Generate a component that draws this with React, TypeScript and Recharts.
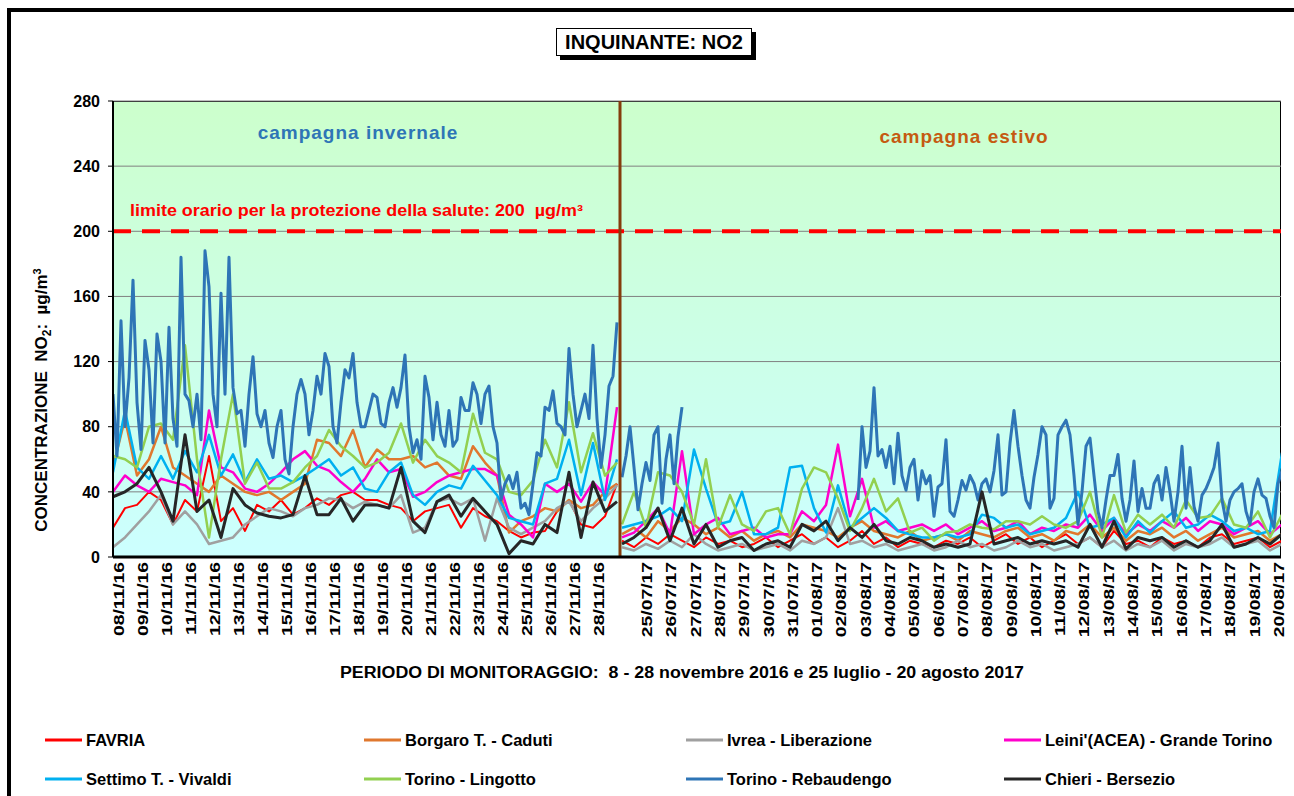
import React from "react";
import {
  LineChart,
  Line,
  XAxis,
  YAxis,
  CartesianGrid,
  ReferenceLine,
} from "recharts";

// tick labels
const WINTER_LABELS = [
  "08/11/16", "09/11/16", "10/11/16", "11/11/16", "12/11/16", "13/11/16", "14/11/16",
  "15/11/16", "16/11/16", "17/11/16", "18/11/16", "19/11/16", "20/11/16", "21/11/16",
  "22/11/16", "23/11/16", "24/11/16", "25/11/16", "26/11/16", "27/11/16", "28/11/16",
];
const SUMMER_LABELS = [
  "25/07/17", "26/07/17", "27/07/17", "28/07/17", "29/07/17", "30/07/17", "31/07/17",
  "01/08/17", "02/08/17", "03/08/17", "04/08/17", "05/08/17", "06/08/17", "07/08/17",
  "08/08/17", "09/08/17", "10/08/17", "11/08/17", "12/08/17", "13/08/17", "14/08/17",
  "15/08/17", "16/08/17", "17/08/17", "18/08/17", "19/08/17", "20/08/17",
];
const Y_TICKS = [0, 40, 80, 120, 160, 200, 240, 280];

// NO2 µg/m³ — winter campaign 08/11-28/11/2016
const FAVRIA_W = [18, 30, 32, 40, 35, 20, 35, 28, 62, 22, 30, 16, 32, 28, 35, 26, 30, 36, 32, 38, 40, 35, 35, 32, 30, 22, 28, 30, 32, 18, 30, 25, 22, 16, 12, 15, 16, 28, 35, 20, 18, 25, 45];
const BORGARO_W = [55, 85, 50, 60, 80, 55, 50, 45, 40, 50, 45, 40, 38, 40, 35, 40, 45, 72, 70, 62, 78, 55, 66, 60, 60, 62, 55, 58, 50, 48, 68, 58, 50, 15, 22, 25, 30, 28, 35, 30, 32, 40, 45];
const IVREA_W = [6, 12, 20, 28, 38, 20, 28, 20, 8, 10, 12, 20, 25, 30, 28, 25, 30, 32, 36, 35, 30, 34, 32, 30, 38, 15, 18, 34, 36, 32, 36, 10, 36, 18, 14, 18, 22, 30, 34, 22, 30, 36, 44];
const LEINI_W = [40, 50, 44, 40, 48, 46, 44, 38, 90, 55, 52, 42, 40, 45, 52, 60, 65, 56, 53, 46, 40, 48, 60, 52, 54, 37, 40, 46, 50, 52, 54, 54, 50, 26, 20, 12, 45, 40, 45, 34, 46, 38, 92];
const SETTIMO_W = [52, 90, 55, 48, 62, 48, 65, 52, 75, 50, 63, 46, 60, 48, 50, 46, 50, 55, 60, 50, 55, 42, 40, 52, 58, 38, 32, 40, 44, 42, 56, 47, 38, 24, 22, 20, 45, 48, 72, 38, 70, 35, 60];
const LINGOTTO_W = [62, 60, 55, 80, 82, 72, 130, 60, 12, 60, 100, 45, 58, 42, 42, 46, 55, 62, 78, 68, 62, 55, 58, 64, 82, 58, 72, 62, 58, 52, 88, 64, 60, 40, 38, 47, 72, 55, 95, 52, 76, 50, 58];
const REBAUDENGO_W = [
  100, 62, 145, 80, 110, 170, 95, 66, 133, 115, 70, 137, 120, 70, 141, 85, 68, 184, 100, 96,
  80, 100, 72, 188, 166, 100, 80, 162, 100, 184, 104, 88, 90, 68, 100, 123, 88, 80, 90, 70,
  61, 80, 90, 60, 51, 80, 100, 109, 100, 75, 90, 111, 100, 125, 117, 80, 70, 95, 115, 110,
  125, 95, 80, 80, 90, 100, 98, 82, 80, 95, 104, 92, 104, 124, 80, 64, 72, 60, 111, 98,
  72, 95, 75, 68, 90, 68, 72, 98, 90, 90, 107, 100, 82, 100, 105, 80, 70, 35, 45, 50,
  42, 52, 30, 33, 26, 45, 64, 62, 92, 90, 102, 82, 80, 75, 128, 100, 80, 90, 100, 85,
  130, 85, 55, 75, 105, 111, 144,
];
const CHIERI_W = [37, 40, 45, 55, 40, 22, 75, 28, 35, 12, 42, 32, 27, 25, 24, 26, 50, 26, 26, 36, 22, 32, 32, 30, 55, 22, 15, 34, 38, 25, 36, 28, 20, 2, 10, 8, 20, 15, 52, 12, 46, 28, 34];

// summer campaign 24/07-20/08/2017
const FAVRIA_S = [10, 6, 12, 8, 14, 10, 6, 12, 8, 10, 6, 8, 12, 6, 10, 14, 8, 12, 6, 10, 16, 8, 12, 6, 10, 8, 6, 10, 8, 12, 6, 10, 14, 8, 12, 6, 10, 14, 8, 12, 6, 16, 8, 10, 6, 12, 8, 10, 6, 12, 14, 8, 10, 12, 6, 10];
const BORGARO_S = [14, 18, 12, 22, 16, 24, 20, 14, 18, 12, 16, 10, 14, 16, 12, 20, 18, 16, 12, 18, 22, 16, 14, 12, 16, 10, 12, 14, 10, 16, 14, 12, 16, 18, 12, 14, 10, 16, 14, 20, 12, 18, 10, 16, 14, 18, 12, 16, 10, 14, 18, 12, 14, 16, 10, 14];
const IVREA_S = [6, 4, 8, 5, 10, 6, 14, 8, 4, 6, 8, 4, 6, 8, 4, 10, 8, 12, 30, 8, 10, 6, 8, 4, 6, 8, 4, 6, 10, 6, 8, 4, 6, 10, 6, 8, 4, 6, 8, 12, 6, 10, 4, 8, 6, 10, 4, 8, 6, 8, 12, 6, 8, 10, 4, 8];
const LEINI_S = [12, 15, 22, 30, 14, 65, 14, 20, 24, 14, 16, 18, 12, 14, 14, 28, 22, 32, 69, 25, 48, 18, 22, 16, 18, 20, 16, 20, 14, 18, 22, 16, 18, 22, 14, 18, 16, 20, 18, 26, 16, 24, 14, 20, 16, 22, 18, 24, 16, 22, 20, 14, 18, 22, 14, 20];
const SETTIMO_S = [18, 20, 22, 25, 30, 22, 66, 42, 20, 22, 40, 14, 14, 18, 55, 56, 30, 15, 44, 18, 24, 30, 24, 16, 14, 12, 12, 14, 12, 14, 26, 24, 18, 20, 14, 16, 18, 24, 40, 18, 20, 24, 12, 22, 15, 22, 28, 18, 20, 26, 22, 16, 18, 14, 16, 64];
const LINGOTTO_S = [20, 40, 18, 52, 50, 40, 20, 60, 18, 38, 20, 16, 28, 30, 14, 42, 55, 52, 36, 16, 30, 48, 28, 36, 15, 18, 10, 15, 16, 20, 18, 17, 22, 22, 20, 25, 20, 18, 22, 40, 12, 38, 15, 26, 20, 26, 18, 35, 24, 25, 36, 20, 18, 28, 12, 26];
const REBAUDENGO_S = [
  49, 62, 80, 55, 29, 45, 58, 47, 75, 80, 33, 60, 75, 45, 74, 92,
  null, null, null, null, null, null, null, null, null, null, null, null, null, null, null,
  null, null, null, null, null, null, null, null, null, null, null, null, null, null, null,
  null, null, null, null, null, null, null, null, null, null, null, null, null,
  35, 80, 55, 65, 104, 62, 66, 55, 68, 45, 76, 50, 41, 55, 60, 35, 53, 45, 50, 25,
  43, 45, 72, 28, 25, 35, 47, 41, 50, 45, 35, 45, 48, 40, 53, 75, 38, 40, 70, 90,
  68, 50, 35, 30, 49, 63, 80, 75, 30, 36, 75, 80, 84, 75, 50, 20, 40, 68, 73, 50,
  28, 18, 35, 50, 50, 63, 36, 22, 35, 59, 28, 42, 30, 30, 45, 50, 35, 55, 40, 22,
  40, 68, 30, 55, 31, 22, 38, 42, 48, 55, 70, 35, 22, 35, 40, 42, 45, 28, 20, 40,
  48, 38, 36, 25, 18, 45, 53,
];
const CHIERI_S = [8, 12, 18, 30, 10, 30, 8, 20, 6, 10, 12, 4, 8, 10, 6, 20, 16, 22, 10, 18, 12, 20, 10, 8, 12, 10, 6, 8, 6, 8, 40, 8, 10, 12, 8, 10, 8, 10, 6, 20, 6, 22, 5, 12, 10, 12, 6, 10, 6, 10, 20, 6, 8, 12, 8, 14];

// axis position: 1 unit = 1 hour (winter), summer block starts after the break
const X_MAX = 1168;
const BREAK_X = 507;
const SUMMER_START = 509;
const winterTick = (d: number) => 6 + 24 * d;
const summerTick = (d: number) => 534 + 24.3 * d;
const X_TICKS = [...WINTER_LABELS.map((_, i) => winterTick(i)), ...SUMMER_LABELS.map((_, i) => summerTick(i))];
const X_TICK_LABELS = [...WINTER_LABELS, ...SUMMER_LABELS];

const SERIES = [
  { name: "FAVRIA", color: "#FF0000", width: 2, step: 12, winter: FAVRIA_W, summer: FAVRIA_S },
  { name: "Borgaro T. - Caduti", color: "#E0782E", width: 2.5, step: 12, winter: BORGARO_W, summer: BORGARO_S },
  { name: "Ivrea - Liberazione", color: "#A0A0A0", width: 2.5, step: 12, winter: IVREA_W, summer: IVREA_S },
  { name: "Leini'(ACEA) - Grande Torino", color: "#FF00CC", width: 2.5, step: 12, winter: LEINI_W, summer: LEINI_S },
  { name: "Settimo T. - Vivaldi", color: "#00B0F0", width: 2.5, step: 12, winter: SETTIMO_W, summer: SETTIMO_S },
  { name: "Torino - Lingotto", color: "#92D050", width: 2.5, step: 12, winter: LINGOTTO_W, summer: LINGOTTO_S },
  { name: "Torino - Rebaudengo", color: "#2E75B6", width: 3, step: 4, winter: REBAUDENGO_W, summer: REBAUDENGO_S },
  { name: "Chieri - Bersezio", color: "#262626", width: 3, step: 12, winter: CHIERI_W, summer: CHIERI_S },
];

const buildRows = (s: (typeof SERIES)[number]) => [
  ...s.winter.map((v, i) => ({ x: i * s.step, v })),
  { x: BREAK_X, v: null },
  ...s.summer.map((v, i) => ({ x: SUMMER_START + i * s.step, v })),
];

const FONT = '"Liberation Sans", Arial, sans-serif';

const DateTick = (props: any) => {
  const { x, y, payload } = props;
  const idx = X_TICKS.findIndex((t) => Math.abs(t - payload.value) < 0.01);
  return (
    <text
      transform={`translate(${x},${y}) rotate(-90) scale(1.38,1)`}
      textAnchor="end"
      dy="0.36em"
      fontSize={14}
      fontWeight={700}
      fontFamily={FONT}
      fill="#000"
    >
      {X_TICK_LABELS[idx] ?? ""}
    </text>
  );
};

const LEGEND_COLS = [45, 364, 686, 1004];
const LEGEND_ROWS = [740, 779];

export default function App() {
  return (
    <div style={{ position: "relative", width: 1294, height: 796, background: "#fff", overflow: "hidden", fontFamily: FONT }}>
      <style>{"body{margin:0}"}</style>
      {/* outer frame */}
      <div style={{ position: "absolute", left: 7, top: 8, width: 1400, height: 900, borderTop: "4px solid #000", borderLeft: "4px solid #000" }} />
      {/* plot background */}
      <div
        style={{
          position: "absolute", left: 113, top: 101, width: 1168, height: 456,
          background: "linear-gradient(#CCFFCC, #CCFFFF)", border: "1px solid #000", boxSizing: "border-box",
        }}
      />
      {/* title */}
      <div
        style={{
          position: "absolute", left: 556, top: 28, width: 196, height: 28, boxSizing: "border-box",
          border: "1px solid #000", boxShadow: "4px 4px 0 #000", background: "#fff",
          fontSize: 20, fontWeight: 700, textAlign: "center", lineHeight: "26px",
        }}
      >
        INQUINANTE: NO2
      </div>

      <div style={{ position: "absolute", left: 0, top: 0 }}>
        <LineChart width={1294} height={650} margin={{ top: 101, right: 13, bottom: 8, left: 53 }}>
          <CartesianGrid vertical={false} stroke="#808080" />
          <XAxis
            type="number"
            dataKey="x"
            domain={[0, X_MAX]}
            ticks={X_TICKS}
            interval={0}
            allowDataOverflow
            height={85}
            tickSize={0}
            tickMargin={5}
            axisLine={{ stroke: "#000", strokeWidth: 3 }}
            tickLine={false}
            tick={<DateTick />}
          />
          <YAxis
            type="number"
            domain={[0, 280]}
            ticks={Y_TICKS}
            interval={0}
            allowDataOverflow
            width={60}
            tickSize={5}
            tickMargin={8}
            axisLine={{ stroke: "#000", strokeWidth: 2 }}
            tickLine={{ stroke: "#000" }}
            tick={{ fill: "#000", fontSize: 16, fontWeight: 700, fontFamily: FONT }}
          />
          <ReferenceLine y={200} stroke="#FF0000" strokeWidth={4} strokeDasharray="18 11" />
          {SERIES.map((s) => (
            <Line
              key={s.name}
              data={buildRows(s)}
              dataKey="v"
              name={s.name}
              type="linear"
              stroke={s.color}
              strokeWidth={s.width}
              strokeLinejoin="round"
              dot={false}
              activeDot={false}
              connectNulls={false}
              isAnimationActive={false}
            />
          ))}
          <ReferenceLine x={BREAK_X} stroke="#843C0C" strokeWidth={3} />
        </LineChart>
      </div>

      <svg width={1294} height={796} style={{ position: "absolute", left: 0, top: 0, pointerEvents: "none" }} fontFamily={FONT}>
        <text x={358} y={139} textAnchor="middle" fontSize={19} fontWeight={700} letterSpacing={1} fill="#2E75B6">
          campagna invernale
        </text>
        <text x={964} y={143} textAnchor="middle" fontSize={19} fontWeight={700} letterSpacing={1} fill="#C55A11">
          campagna estivo
        </text>
        <text x={130} y={216} fontSize={16} fontWeight={700} fill="#FF0000" textLength={453} lengthAdjust="spacingAndGlyphs" style={{ whiteSpace: "pre" }}>
          {"limite orario per la protezione della salute: 200  µg/m³"}
        </text>
        <text transform="translate(47,400) rotate(-90)" textAnchor="middle" fontSize={17} fontWeight={700} fill="#000" style={{ whiteSpace: "pre" }}>
          {"CONCENTRAZIONE  NO"}
          <tspan fontSize={12} dy={4}>2</tspan>
          <tspan dy={-4}>{":  µg/m"}</tspan>
          <tspan fontSize={11} dy={-6}>3</tspan>
        </text>
        <text x={682} y={678} textAnchor="middle" fontSize={16} fontWeight={700} fill="#000" textLength={684} lengthAdjust="spacingAndGlyphs" style={{ whiteSpace: "pre" }}>
          {"PERIODO DI MONITORAGGIO:  8 - 28 novembre 2016 e 25 luglio - 20 agosto 2017"}
        </text>
        {SERIES.map((s, i) => {
          const lx = LEGEND_COLS[i % 4];
          const ly = LEGEND_ROWS[Math.floor(i / 4)];
          return (
            <g key={s.name}>
              <line x1={lx} x2={lx + 37} y1={ly} y2={ly} stroke={s.color} strokeWidth={3} />
              <text x={lx + 41} y={ly + 6} fontSize={16.5} fontWeight={700} fill="#000">
                {s.name}
              </text>
            </g>
          );
        })}
      </svg>
    </div>
  );
}
